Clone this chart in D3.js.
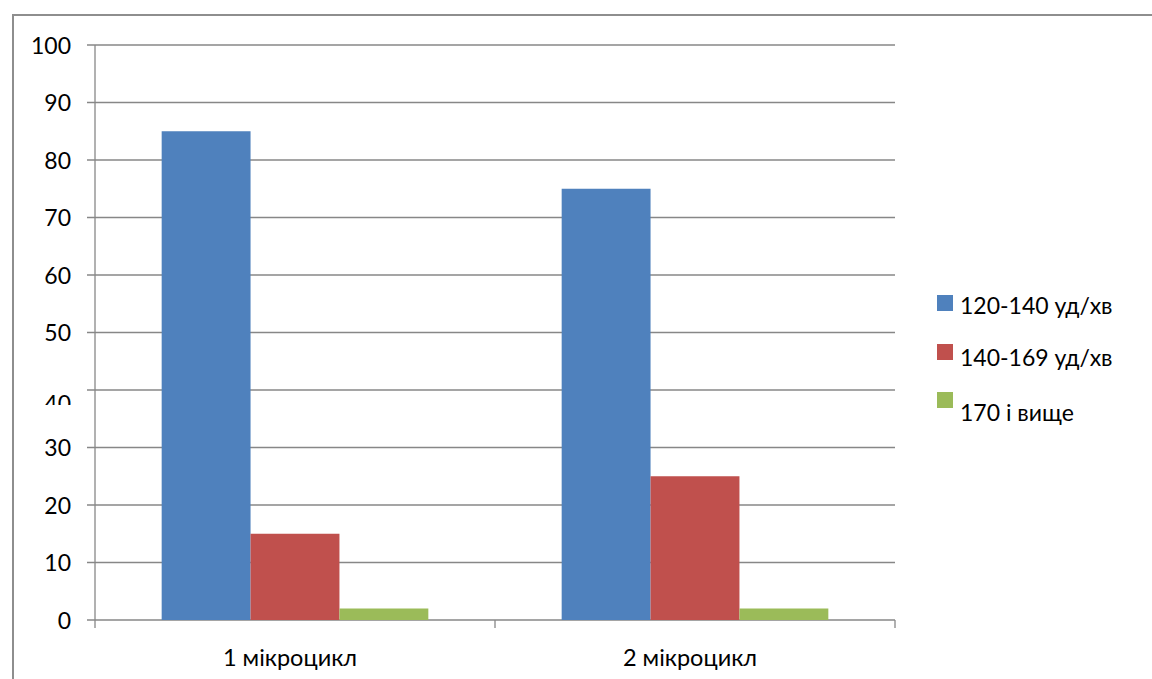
<!DOCTYPE html>
<html>
<head>
<meta charset="utf-8">
<script src="https://cdn.jsdelivr.net/npm/d3@7"></script>
<style>
  html, body { margin: 0; padding: 0; background: #fff; }
  svg { display: block; font-family: Lato, "Noto Sans", sans-serif; }
</style>
</head>
<body>
<svg id="chart" width="1152" height="679"></svg>
<script>
const categories = ["1 мікроцикл", "2 мікроцикл"];
const seriesNames = ["120-140 уд/хв", "140-169 уд/хв", "170 і вище"];
const series1 = [85, 75];
const series2 = [15, 25];
const series3 = [2, 2];
const yTicks = [0, 10, 20, 30, 40, 50, 60, 70, 80, 90, 100];
const colors = ["#4F81BD", "#C0504D", "#9BBB59"];

const allSeries = [series1, series2, series3];
const svg = d3.select("#chart");

// outer frame (only top and left edges visible in view)
svg.append("rect").attr("x", 13).attr("y", 15).attr("width", 1200).attr("height", 700)
  .attr("fill", "none").attr("stroke", "#8e8e8e").attr("stroke-width", 2);

const plotLeft = 95, plotRight = 895, plotTop = 45, plotBottom = 620;
const x = d3.scaleBand().domain(categories).range([plotLeft, plotRight]).padding(0);
const bw = x.bandwidth();
const x1 = d3.scaleBand().domain(seriesNames).range([bw / 6, bw * 5 / 6]).padding(0);
const y = d3.scaleLinear().domain([0, 100]).range([plotBottom, plotTop]);

// gridlines
svg.append("g").selectAll("line").data(yTicks).join("line")
  .attr("x1", plotLeft - 8).attr("x2", plotRight)
  .attr("y1", d => y(d)).attr("y2", d => y(d))
  .attr("stroke", "#878787").attr("stroke-width", 1.3);

// y axis line
svg.append("line").attr("x1", plotLeft).attr("x2", plotLeft)
  .attr("y1", plotTop).attr("y2", plotBottom + 8)
  .attr("stroke", "#878787").attr("stroke-width", 1.3);

// x axis ticks at band boundaries
const xBounds = categories.map(c => x(c) + bw);
svg.append("g").selectAll("line").data(xBounds).join("line")
  .attr("x1", d => d).attr("x2", d => d)
  .attr("y1", plotBottom).attr("y2", plotBottom + 8)
  .attr("stroke", "#878787").attr("stroke-width", 1.3);

// bars
categories.forEach((c, ci) => {
  seriesNames.forEach((s, si) => {
    const v = allSeries[si][ci];
    svg.append("rect")
      .attr("x", x(c) + x1(s))
      .attr("width", x1.bandwidth())
      .attr("y", y(v))
      .attr("height", y(0) - y(v))
      .attr("fill", colors[si]);
  });
});

// y tick labels
const defs = svg.append("defs");
defs.append("clipPath").attr("id", "clip40").append("rect")
  .attr("x", 0).attr("y", 0).attr("width", 90).attr("height", y(40) + 15);
svg.append("g").selectAll("text").data(yTicks).join("text")
  .attr("x", 71)
  .attr("y", d => d === 40 ? y(d) + 22 : y(d) + 8.5)
  .attr("text-anchor", "end")
  .attr("font-size", 23)
  .attr("fill", "#000")
  .attr("clip-path", d => d === 40 ? "url(#clip40)" : null)
  .text(d => d);

// x labels
svg.append("g").selectAll("text").data(categories).join("text")
  .attr("x", d => x(d) + bw / 2 - 5)
  .attr("y", 666)
  .attr("text-anchor", "middle")
  .attr("font-size", 23.5)
  .attr("fill", "#000")
  .text(d => d);

// legend
const legSwatchY = [295, 344, 392];
const legTextY = [314, 366, 421];
const leg = svg.append("g");
seriesNames.forEach((s, i) => {
  leg.append("rect").attr("x", 937).attr("y", legSwatchY[i])
    .attr("width", 16).attr("height", 16).attr("fill", colors[i]);
  leg.append("text").attr("x", 960).attr("y", legTextY[i])
    .attr("font-size", 23).attr("fill", "#000").text(s);
});
</script>
</body>
</html>
